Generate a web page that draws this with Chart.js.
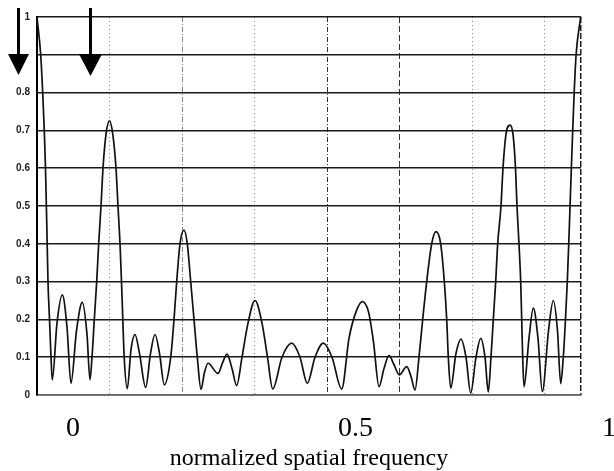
<!DOCTYPE html>
<html>
<head>
<meta charset="utf-8">
<script src="https://cdn.jsdelivr.net/npm/chart.js@4.4.1/dist/chart.umd.min.js"></script>
<style>
  html, body { margin: 0; padding: 0; background: #fff; }
  #wrap { width: 614px; height: 471px; position: relative; }
</style>
</head>
<body>
<div id="wrap"><canvas id="c" width="614" height="471"></canvas></div>
<script>
// ---- data (x in sample units 0..150, y = normalized magnitude) ----
const freq = [
  0, 1.02, 1.57, 2.01, 2.34, 2.70, 3.03, 3.45, 3.86, 4.22,
  5.51, 6.98, 8.27, 9.37,
  10.89, 12.49, 13.79, 14.61,
  15.17, 15.80, 16.46, 17.01, 17.65, 18.20, 19.03, 19.99, 20.89, 21.78, 22.33, 22.89, 23.30, 23.66, 24.04, 24.90,
  25.92, 27.02, 28.26, 29.97,
  31.30, 32.54, 33.78, 35.10,
  36.87, 37.78, 38.52, 39.43, 40.53, 41.44, 42.38, 43.29, 44.20, 45.22,
  46.19, 47.15, 49.91, 51.15, 52.39, 53.77, 55.06,
  56.53, 58.18, 60.11, 62.04, 63.56, 64.99,
  67.55, 70.23, 72.52, 74.53,
  76.65, 78.94, 81.34, 84.02,
  86.03, 87.96, 89.70, 91.41, 92.79, 94.30,
  95.68, 97.06, 98.44, 99.90, 101.94, 103.10, 104.23,
  105.33, 106.35, 107.45, 108.83, 110.02, 111.31, 112.31, 112.97, 113.41, 114.07,
  115.53, 116.91, 118.29, 119.58,
  121.05, 122.34, 123.53, 124.44,
  125.18, 125.82, 126.48, 127.03, 127.94, 128.49, 129.32, 130.42, 131.25, 131.94, 132.35, 132.90, 133.37, 133.65, 133.92, 134.28,
  135.66, 136.85, 138.14, 139.33,
  141.04, 142.36, 143.52, 144.40,
  145.12, 145.72, 146.22, 146.62, 146.98, 147.34, 147.72, 148.12, 148.65, 149.90
];
const amplitude = [
  1.0, 0.9, 0.8, 0.7, 0.6, 0.45, 0.3, 0.2, 0.1, 0.04,
  0.19, 0.265, 0.18, 0.031,
  0.17, 0.245, 0.16, 0.04,
  0.1, 0.2, 0.3, 0.4, 0.5, 0.6, 0.69, 0.725, 0.69, 0.6, 0.5, 0.4, 0.3, 0.2, 0.1, 0.017,
  0.12, 0.16, 0.11, 0.02,
  0.11, 0.16, 0.11, 0.027,
  0.1, 0.2, 0.3, 0.4, 0.436, 0.4, 0.3, 0.2, 0.1, 0.015,
  0.06, 0.084, 0.057, 0.085, 0.108, 0.07, 0.025,
  0.1, 0.19, 0.25, 0.19, 0.1, 0.016,
  0.1, 0.137, 0.1, 0.031,
  0.1, 0.137, 0.1, 0.016,
  0.15, 0.22, 0.247, 0.22, 0.14, 0.022,
  0.07, 0.104, 0.08, 0.053, 0.075, 0.05, 0.013,
  0.1, 0.2, 0.3, 0.4, 0.432, 0.4, 0.3, 0.2, 0.1, 0.018,
  0.11, 0.148, 0.1, 0.005,
  0.1, 0.15, 0.1, 0.008,
  0.1, 0.2, 0.3, 0.4, 0.5, 0.6, 0.69, 0.714, 0.69, 0.6, 0.5, 0.4, 0.3, 0.2, 0.1, 0.022,
  0.15, 0.23, 0.15, 0.009,
  0.17, 0.25, 0.17, 0.03,
  0.1, 0.2, 0.3, 0.4, 0.5, 0.6, 0.7, 0.8, 0.9, 1.0
];
const gridPositions = [0, 20, 40, 60, 80, 100, 120, 140, 150];
const xTickLabels = ['0', '0.5', '1'];
const xAxisTitle = 'normalized spatial frequency';

const points = freq.map((x, i) => ({ x: x, y: amplitude[i] }));

// overlay: bottom labels and the two arrows (annotation layer)
const overlay = {
  id: 'overlay',
  afterDraw(chart) {
    const ctx = chart.ctx;
    ctx.save();
    ctx.fillStyle = '#000';
    ctx.font = '28px "Liberation Serif", "Times New Roman", serif';
    ctx.textAlign = 'center';
    ctx.textBaseline = 'alphabetic';
    const lx = [73, 355.5, 609];
    xTickLabels.forEach((t, i) => ctx.fillText(t, lx[i], 436));
    // arrows
    const arrow = (x, y0, y1, hw, tip) => {
      ctx.fillRect(x - 1.5, y0, 3, y1 - y0 + 1);
      ctx.beginPath();
      ctx.moveTo(x - hw, y1);
      ctx.lineTo(x + hw, y1);
      ctx.lineTo(x, tip);
      ctx.closePath();
      ctx.fill();
    };
    arrow(18.5, 8, 54, 10.5, 75);
    arrow(90.5, 8, 54, 11.5, 76);
    ctx.restore();
  }
};

new Chart(document.getElementById('c'), {
  type: 'line',
  data: {
    datasets: [{
      data: points,
      borderColor: '#111',
      borderWidth: 1.7,
      pointRadius: 0,
      fill: false,
      cubicInterpolationMode: 'monotone',
      clip: 4
    }]
  },
  options: {
    responsive: false,
    animation: false,
    events: [],
    layout: { padding: { left: 0, right: 33, top: 17, bottom: 0 } },
    plugins: { legend: { display: false }, tooltip: { enabled: false } },
    scales: {
      x: {
        type: 'linear',
        min: 0,
        max: 150,
        afterBuildTicks: (s) => { s.ticks = gridPositions.map(v => ({ value: v })); },
        afterFit: (s) => { s.height = 76; },
        ticks: { display: false },
        grid: {
          drawTicks: false,
          color: (c) => {
            const v = c.tick ? c.tick.value : null;
            if (v === 150) return '#222';
            if (v === 80 || v === 100) return '#333';
            return '#888';
          },
          lineWidth: (c) => (c.tick && (c.tick.value === 150)) ? 1.5 : 1
        },
        border: {
          display: true,
          color: '#666',
          width: 1.5,
          dash: (c) => {
            const v = c.tick ? c.tick.value : null;
            if (v === 150) return [6, 2];
            if (v === 40 || v === 80) return [5, 2, 1, 2];
            if (v === 100) return [6, 3];
            return [1, 3];
          }
        },
        title: {
          display: true,
          text: xAxisTitle,
          color: '#000',
          font: { family: '"Liberation Serif", "Times New Roman", serif', size: 24, lineHeight: 1 },
          padding: { top: 0, bottom: 0 }
        }
      },
      y: {
        min: 0,
        max: 1,
        afterFit: (s) => { s.width = 37; },
        ticks: {
          stepSize: 0.1,
          padding: 7,
          color: '#222',
          font: { family: '"Liberation Sans", Arial, sans-serif', size: 10, weight: 'bold' },
          callback: (v) => {
            const r = Math.round(v * 10) / 10;
            if (r === 0.9) return '';
            if (r === 0) return '0';
            if (r === 1) return '1';
            return r.toFixed(1);
          }
        },
        grid: { drawTicks: false, color: '#1a1a1a', lineWidth: 1.5 },
        border: { display: true, color: '#000', width: 2 }
      }
    }
  },
  plugins: [overlay]
});
</script>
</body>
</html>
